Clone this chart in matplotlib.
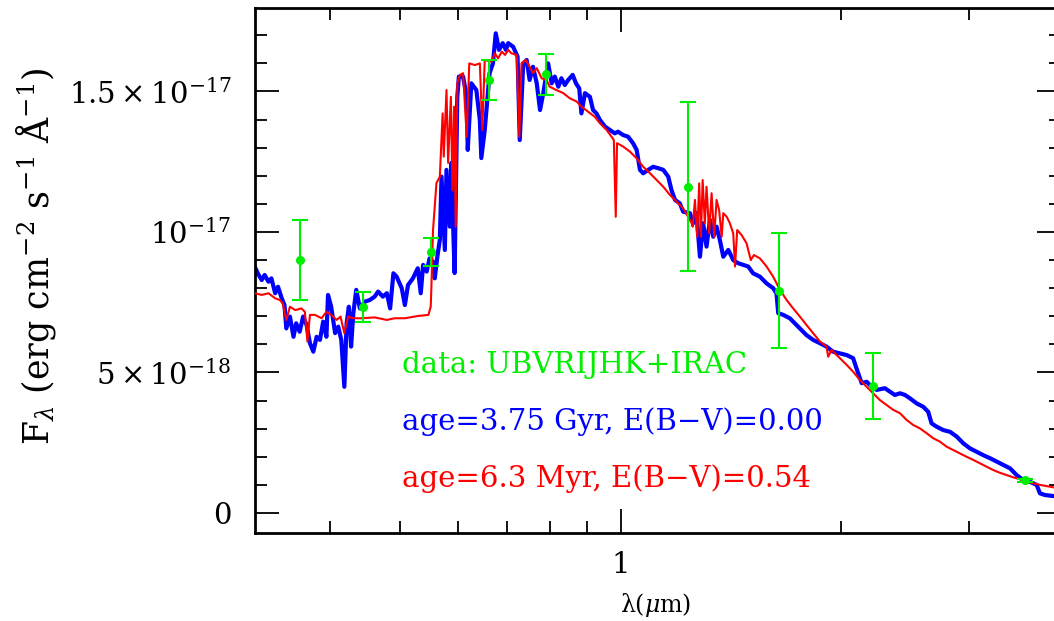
"""
Spectral energy distribution with two model spectra and broad-band photometry.
"""

import matplotlib

matplotlib.use("Agg")
import matplotlib.pyplot as plt
from matplotlib.ticker import FixedLocator, MultipleLocator, NullFormatter

# fluxes are in units of 1e-18 erg cm^-2 s^-1 A^-1, wavelengths in micron
blue_wave = [
    0.316, 0.319, 0.323, 0.326, 0.330, 0.333, 0.337, 0.340, 0.344, 0.347,
    0.349, 0.353, 0.357, 0.360, 0.364, 0.368, 0.372, 0.376, 0.380, 0.384,
    0.388, 0.392, 0.396, 0.398, 0.402, 0.407, 0.411, 0.415, 0.419, 0.422,
    0.425, 0.428, 0.431, 0.435, 0.440, 0.447, 0.454, 0.461, 0.466, 0.473,
    0.479, 0.484, 0.489, 0.494, 0.502, 0.507, 0.512, 0.520, 0.528, 0.533,
    0.537, 0.543, 0.548, 0.554, 0.557, 0.562, 0.566, 0.569, 0.575, 0.578,
    0.584, 0.587, 0.590, 0.593, 0.598, 0.601, 0.609, 0.616, 0.618, 0.625,
    0.635, 0.642, 0.645, 0.652, 0.662, 0.669, 0.675, 0.682, 0.690, 0.697,
    0.702, 0.713, 0.723, 0.728, 0.736, 0.744, 0.751, 0.759, 0.768, 0.776,
    0.784, 0.796, 0.805, 0.813, 0.822, 0.830, 0.839, 0.848, 0.860, 0.869,
    0.878, 0.884, 0.894, 0.908, 0.917, 0.927, 0.937, 0.952, 0.967, 0.982,
    0.992, 1.008, 1.024, 1.040, 1.052, 1.063, 1.074, 1.091, 1.108, 1.126,
    1.144, 1.162, 1.174, 1.187, 1.205, 1.218, 1.244, 1.257, 1.270, 1.284,
    1.297, 1.311, 1.325, 1.339, 1.353, 1.367, 1.382, 1.404, 1.426, 1.448,
    1.471, 1.495, 1.518, 1.551, 1.584, 1.617, 1.634, 1.643, 1.669, 1.704,
    1.731, 1.759, 1.796, 1.834, 1.874, 1.913, 1.953, 1.995, 2.038, 2.080,
    2.102, 2.137, 2.171, 2.205, 2.240, 2.299, 2.335, 2.372, 2.411, 2.449,
    2.488, 2.541, 2.594, 2.635, 2.663, 2.706, 2.763, 2.822, 2.882, 2.943,
    3.005, 3.069, 3.133, 3.201, 3.268, 3.338, 3.409, 3.481, 3.555, 3.630,
    3.708, 3.746, 3.805, 3.915,
]
blue_flux = [
    8.77, 8.53, 8.29, 8.47, 8.23, 8.35, 7.82, 8.05, 7.64, 7.40,
    6.57, 6.99, 6.27, 6.75, 6.45, 6.99, 6.69, 6.04, 5.74, 6.27,
    6.16, 6.81, 6.27, 7.76, 7.34, 6.40, 6.63, 6.16, 4.49, 6.75,
    7.34, 5.92, 7.11, 7.94, 7.28, 7.52, 7.58, 7.70, 7.88, 7.70,
    7.82, 7.28, 8.53, 8.41, 8.00, 7.40, 8.11, 8.35, 8.71, 7.82,
    8.83, 8.59, 9.06, 8.94, 8.35, 9.18, 9.72, 11.97, 9.36, 12.21,
    10.19, 12.46, 10.32, 8.54, 14.81, 15.53, 15.53, 14.81, 12.92, 15.29,
    15.05, 13.99, 12.63, 13.63, 15.65, 16.00, 17.07, 16.48, 16.72, 16.48,
    16.72, 16.59, 16.24, 13.27, 16.00, 16.12, 15.41, 15.88, 15.29, 14.34,
    14.94, 16.00, 15.29, 15.53, 15.17, 15.47, 15.23, 15.41, 15.59, 15.29,
    15.11, 14.22, 14.94, 14.81, 14.34, 14.22, 13.99, 13.75, 13.63, 13.51,
    13.57, 13.45, 13.39, 13.16, 12.92, 12.21, 12.09, 12.21, 12.32, 12.27,
    12.21, 11.97, 11.49, 11.14, 11.02, 10.72, 10.67, 10.31, 10.67, 9.12,
    10.31, 9.48, 10.43, 9.83, 10.19, 9.72, 9.12, 9.36, 9.00, 8.89,
    8.83, 8.77, 8.53, 8.41, 8.17, 8.00, 7.82, 7.11, 7.05, 6.93,
    6.75, 6.57, 6.33, 6.16, 6.04, 5.92, 5.74, 5.68, 5.62, 5.51,
    5.15, 4.62, 4.67, 4.49, 4.38, 4.44, 4.32, 4.20, 4.26, 4.20,
    4.08, 3.90, 3.78, 3.60, 3.19, 3.07, 2.95, 2.89, 2.72, 2.48,
    2.30, 2.18, 2.06, 1.95, 1.83, 1.71, 1.59, 1.35, 1.17, 1.11,
    1.00, 0.70, 0.64, 0.60,
]

red_wave = [
    0.316, 0.323, 0.330, 0.337, 0.342, 0.345, 0.349, 0.353, 0.359, 0.366,
    0.370, 0.373, 0.376, 0.382, 0.390, 0.396, 0.402, 0.409, 0.414, 0.419,
    0.424, 0.431, 0.442, 0.461, 0.479, 0.491, 0.507, 0.528, 0.546, 0.550,
    0.551, 0.554, 0.560, 0.566, 0.571, 0.573, 0.578, 0.581, 0.586, 0.589,
    0.592, 0.595, 0.598, 0.603, 0.609, 0.616, 0.621, 0.632, 0.642, 0.647,
    0.652, 0.666, 0.673, 0.680, 0.688, 0.695, 0.702, 0.709, 0.721, 0.727,
    0.732, 0.742, 0.751, 0.759, 0.768, 0.780, 0.792, 0.800, 0.817, 0.835,
    0.852, 0.871, 0.884, 0.903, 0.922, 0.937, 0.957, 0.972, 0.979, 0.985,
    0.989, 1.008, 1.030, 1.052, 1.074, 1.097, 1.120, 1.144, 1.168, 1.193,
    1.218, 1.237, 1.251, 1.255, 1.264, 1.273, 1.281, 1.288, 1.295, 1.304,
    1.311, 1.322, 1.332, 1.343, 1.353, 1.364, 1.375, 1.382, 1.397, 1.411,
    1.426, 1.434, 1.444, 1.464, 1.487, 1.507, 1.522, 1.551, 1.584, 1.617,
    1.652, 1.687, 1.722, 1.759, 1.796, 1.834, 1.874, 1.913, 1.923, 1.943,
    1.995, 2.038, 2.080, 2.125, 2.171, 2.216, 2.263, 2.312, 2.360, 2.411,
    2.462, 2.514, 2.567, 2.622, 2.677, 2.734, 2.792, 2.851, 2.912, 2.974,
    3.036, 3.101, 3.167, 3.233, 3.303, 3.373, 3.444, 3.518, 3.593, 3.668,
    3.746, 3.915,
]
red_flux = [
    7.82, 7.76, 7.82, 7.64, 7.58, 7.46, 6.87, 7.34, 7.22, 7.28,
    7.16, 6.10, 7.05, 7.05, 6.93, 7.16, 7.05, 6.87, 6.99, 6.40,
    6.99, 6.93, 6.93, 6.96, 6.87, 6.93, 6.93, 7.01, 7.05, 7.34,
    7.94, 10.07, 11.74, 11.97, 14.22, 12.68, 15.05, 12.46, 14.81, 11.49,
    14.46, 10.19, 15.29, 15.59, 15.65, 13.39, 16.00, 15.94, 16.00, 13.63,
    16.12, 16.06, 16.36, 16.18, 16.42, 16.30, 16.48, 16.36, 16.30, 13.39,
    16.00, 16.12, 15.88, 15.65, 15.83, 15.47, 15.41, 15.17, 15.05, 14.94,
    14.76, 14.64, 14.46, 14.28, 14.10, 13.87, 13.63, 13.39, 13.27, 10.54,
    13.16, 13.04, 12.86, 12.62, 12.32, 12.09, 11.85, 11.61, 11.32, 11.08,
    10.84, 10.54, 10.31, 10.19, 11.14, 9.83, 11.73, 9.83, 11.85, 10.31,
    11.61, 9.95, 11.38, 9.83, 11.14, 10.78, 9.83, 10.67, 10.54, 10.31,
    9.95, 8.77, 10.07, 9.89, 9.60, 9.00, 9.18, 9.06, 8.77, 8.41,
    7.94, 7.58, 7.28, 6.99, 6.69, 6.40, 6.10, 5.92, 5.56, 5.80,
    5.51, 5.27, 5.03, 4.73, 4.49, 4.26, 4.02, 3.84, 3.67, 3.55,
    3.31, 3.13, 3.01, 2.84, 2.66, 2.54, 2.36, 2.24, 2.12, 2.00,
    1.89, 1.77, 1.65, 1.53, 1.43, 1.35, 1.27, 1.20, 1.11, 1.06,
    1.00, 0.91,
]

# U B V R I J H K and IRAC 3.6 photometry
phot_wave = [0.364, 0.444, 0.550, 0.660, 0.790, 1.237, 1.648, 2.216, 3.574]
phot_flux = [9.00, 7.34, 9.28, 15.40, 15.62, 11.61, 7.91, 4.52, 1.17]
phot_err = [1.43, 0.54, 0.50, 0.71, 0.73, 3.00, 2.05, 1.17, 0.05]

y_ticks = [0, 5, 10, 15]
y_tick_labels = ["0", r"$5\times10^{-18}$", r"$10^{-17}$", r"$1.5\times10^{-17}$"]
x_minor_ticks = [0.4, 0.5, 0.6, 0.7, 0.8, 0.9, 2, 3, 4]

GREEN = "#00ee00"
BLUE = "#0000ff"
RED = "#ff0000"

plt.rcParams["font.family"] = "DejaVu Serif"
plt.rcParams["mathtext.fontset"] = "dejavuserif"

fig = plt.figure(figsize=(10.54, 6.21), dpi=100)
ax = fig.add_axes([0.2419, 0.1417, 0.7645, 0.8454])

ax.plot(blue_wave, blue_flux, color=BLUE, lw=3.0, solid_joinstyle="round", zorder=2)
ax.plot(red_wave, red_flux, color=RED, lw=1.5, zorder=3)
ax.errorbar(phot_wave, phot_flux, yerr=phot_err, fmt="o", color=GREEN,
            ms=5.5, elinewidth=1.5, capsize=5.5, capthick=1.5, zorder=4)

ax.set_xscale("log")
ax.set_xlim(0.3162, 4.0)
ax.set_ylim(-0.712, 17.97)

ax.xaxis.set_major_locator(FixedLocator([1]))
ax.set_xticklabels(["1"])
ax.xaxis.set_minor_locator(FixedLocator(x_minor_ticks))
ax.xaxis.set_minor_formatter(NullFormatter())
ax.set_yticks(y_ticks)
ax.set_yticklabels(y_tick_labels)
ax.yaxis.set_minor_locator(MultipleLocator(1))

ax.tick_params(which="both", direction="in", top=True, right=True, width=1.3)
ax.tick_params(which="major", length=17, labelsize=21)
ax.tick_params(which="minor", length=8.5)
ax.tick_params(axis="x", which="major", pad=13)
ax.tick_params(axis="y", which="major", pad=17)
for spine in ax.spines.values():
    spine.set_linewidth(2.0)

notes = [
    ("data: UBVRIJHK+IRAC", GREEN, 0.3042),
    ("age=3.75 Gyr, E(B\u2212V)=0.00", BLUE, 0.1962),
    ("age=6.3 Myr, E(B\u2212V)=0.54", RED, 0.0882),
]
for text, color, ypos in notes:
    ax.text(0.1824, ypos, text, color=color, fontsize=21,
            transform=ax.transAxes, va="baseline")

fig.text(656 / 1054, 1 - 605 / 621, r"λ($\mu$m)", fontsize=17,
         ha="center", va="center")
fig.text(36 / 1054, 1 - 256 / 621,
         r"F$_\lambda$ (erg cm$^{-2}$ s$^{-1}$ Å$^{-1}$)", fontsize=25,
         rotation=90, ha="center", va="center")

fig.savefig("out.png", dpi=100)
